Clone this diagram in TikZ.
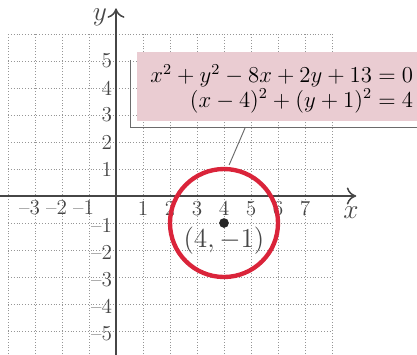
\documentclass[tikz,border=0pt]{standalone}
\usetikzlibrary{arrows.meta}
\definecolor{pinkbox}{RGB}{234,204,210}
\definecolor{circred}{RGB}{218,36,58}
\definecolor{axisgray}{RGB}{70,70,70}
\definecolor{gridgray}{RGB}{150,150,150}
\tikzset{
  gridline/.style={gridgray, densely dotted, line width=0.5pt},
  axisline/.style={axisgray, line width=0.8pt, -{To[length=5pt,width=9pt]}},
  ticklab/.style={text=axisgray, inner sep=0.5pt, font=\fontsize{11.2}{13}\selectfont},
  calloutline/.style={axisgray!80, line width=0.5pt},
}
\begin{document}
\begin{tikzpicture}[x=0.5cm,y=0.5cm]
\useasboundingbox (-4.296,-5.852) rectangle (11.148,7.259);
\clip (-4.296,-5.852) rectangle (11.148,7.259);
% grid
\foreach \i in {-4,...,8} \draw[gridline] (\i,-5.852) -- (\i,6);
\foreach \j in {-5,...,6} \draw[gridline] (-4,\j) -- (8,\j);
% callout box
\fill[pinkbox] (0.78,2.78) rectangle (11.5,5.33);
\coordinate (bt) at (0.52,5.04);
\coordinate (bb) at (0.52,2.52);
\coordinate (br) at (11.5,2.52);
\draw[calloutline] (bt) -- (bb) -- (br);
\node[anchor=east, inner sep=0pt, font=\large] (eq1) at (11.02,4.45) {$x^2 + y^2 - 8x + 2y + 13 = 0$};
\node[anchor=east, inner sep=0pt, font=\large] (eq2) at (11.02,3.52) {$(x-4)^2 + (y+1)^2 = 4$};
% axes
\coordinate (xl) at (-4.3,0);
\coordinate (xr) at (8.9,0);
\coordinate (yb) at (0,-5.9);
\coordinate (yt) at (0,6.95);
\draw[axisline] (xl) -- (xr);
\draw[axisline] (yb) -- (yt);
\node[text=axisgray, font=\Large] (xlab) at (8.7,-0.62) {$x$};
\node[text=axisgray, font=\Large] (ylab) at (-0.6,6.62) {$y$};
% tick labels
\foreach \i in {1,...,7} \node[ticklab, anchor=north] (xt\i) at (\i,-0.14) {\i};
\foreach \i in {1,2,3} \node[ticklab, anchor=north] (xn\i) at (-\i-0.2,-0.1) {\textendash\i};
\foreach \j in {1,...,5} \node[ticklab, anchor=east] (yt\j) at (-0.1,\j) {\j};
\foreach \j in {1,...,5} \node[ticklab, anchor=east] (yn\j) at (-0.1,-\j-0.08) {\textendash\j};
% circle
\coordinate (c) at (4,-1);
\draw[circred, line width=2.3pt] (c) circle (2);
\fill[black!85] (c) circle (0.18);
\node[text=axisgray, font=\fontsize{13.5}{16}\selectfont] (clab) at (4,-1.65) {$(4, -1)$};
% leader
\coordinate (la) at (4.78,2.52);
\coordinate (lb) at (4.19,1.15);
\draw[calloutline] (la) -- (lb);
\end{tikzpicture}
\end{document}
